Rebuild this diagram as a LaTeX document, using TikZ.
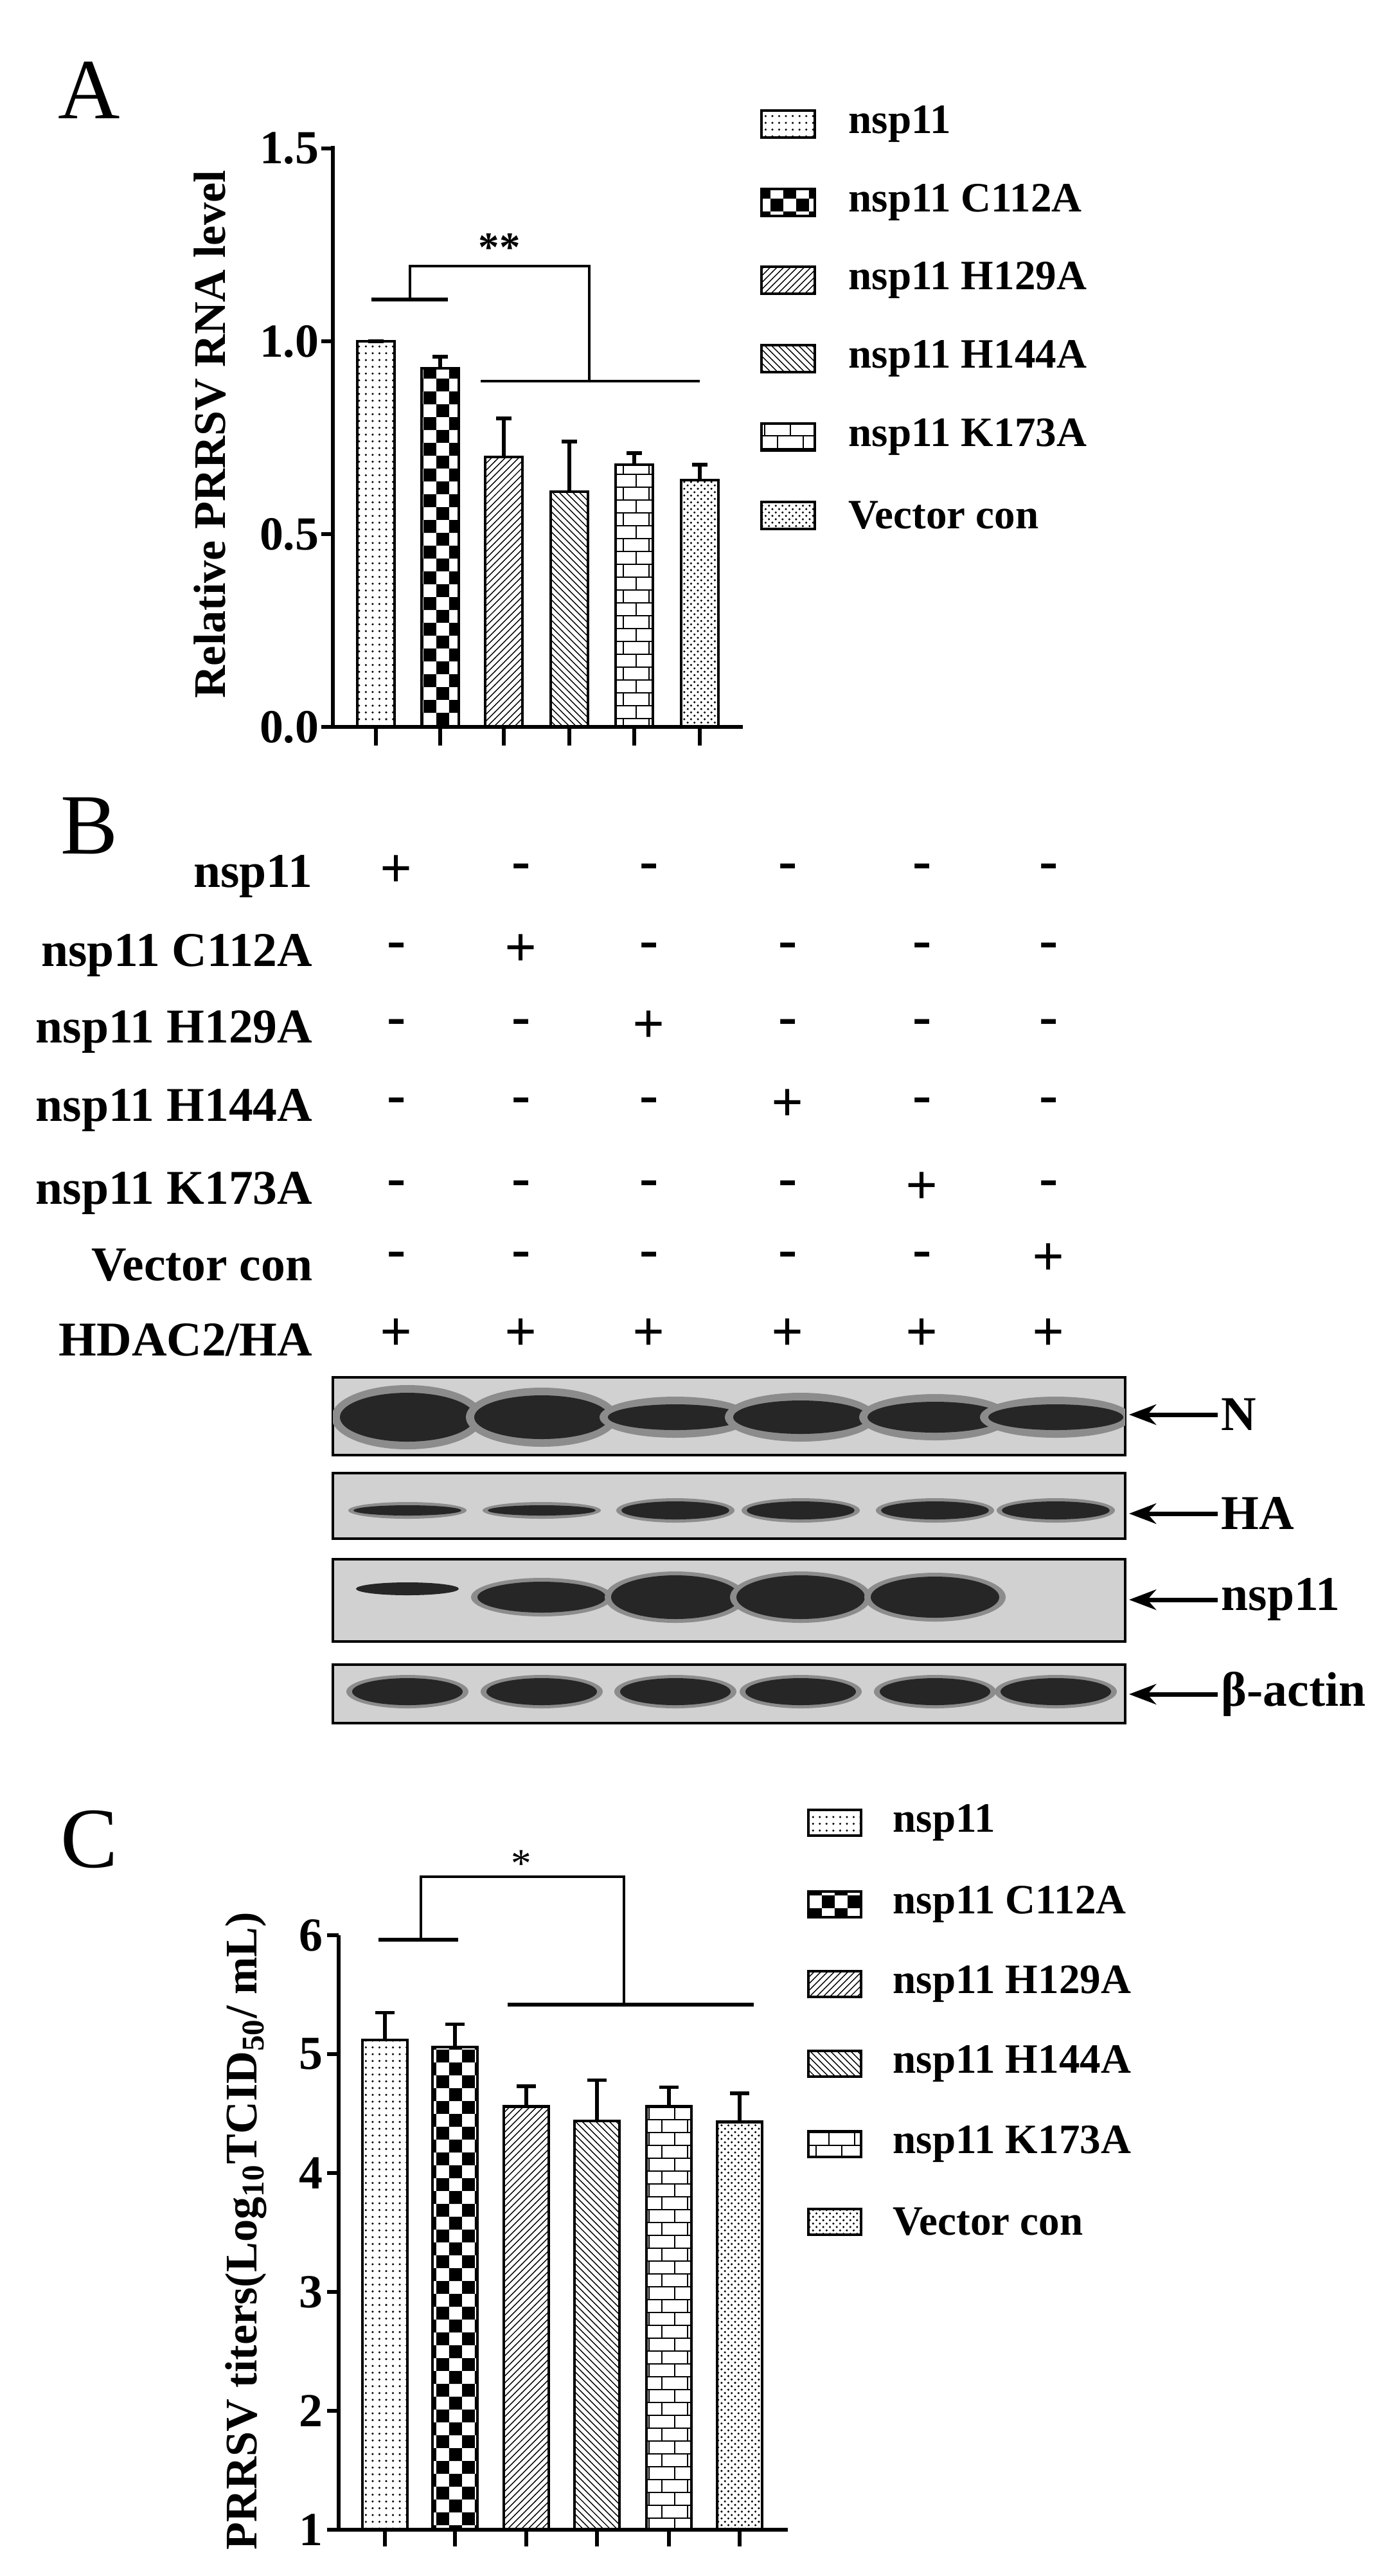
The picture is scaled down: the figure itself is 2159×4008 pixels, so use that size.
\documentclass[tikz,border=0pt]{standalone}
\usepackage{fontspec}
\setmainfont{Liberation Serif}
\usetikzlibrary{patterns,arrows.meta}
\newcommand{\hdaclbl}{HDAC2/HA}
\begin{document}
\begin{tikzpicture}[x=0.1mm,y=-0.1mm,
  lbl/.style={font=\fontsize{18.5}{20}\selectfont\bfseries, inner sep=0pt},
  rowlbl/.style={font=\fontsize{21.5}{23}\selectfont\bfseries, inner sep=0pt},
  ticklbl/.style={font=\fontsize{21}{23}\selectfont\bfseries, inner sep=0pt},
  axlbl/.style={font=\fontsize{20}{22}\selectfont\bfseries, inner sep=0pt},
  sgn/.style={font=\fontsize{25}{27}\selectfont\bfseries, inner sep=0pt},
  panel/.style={font=\fontsize{38}{40}\selectfont, inner sep=0pt},
  barbox/.style={draw=black, line width=1.2pt},
  axisline/.style={line width=1.5pt},
  brk/.style={line width=1pt},
  blot/.style={draw=black, line width=1pt, fill=black!18},
  band/.style={fill=black!85},
  halo/.style={fill=black!45},
  arr/.style={line width=2pt, -{Stealth[length=12pt,width=9pt]}}]
\useasboundingbox (0,0) rectangle (2159,4008);
% ---------------- Panel A ----------------
\node[panel] (pA) at (139,140) {A};
\draw[axisline] (518,227) -- (518,1131) -- (1156,1131);
\foreach \v/\t in {0/0.0,0.5/0.5,1/1.0,1.5/1.5}{
  \draw[axisline] (500,{1131-600*\v}) -- (518,{1131-600*\v});
  \node[ticklbl, anchor=east] at (497,{1131-600*\v}) {\t};
}
\foreach \x/\v/\e/\p in {585/1.0/1.0/dots, 685/0.93/0.96/checkerboard, 784/0.70/0.80/north east lines, 886/0.61/0.74/north west lines, 987/0.68/0.71/bricks, 1089/0.64/0.68/crosshatch dots}{
  \draw[barbox, pattern=\p] (\x-29,1131) rectangle (\x+29,{1131-600*\v});
  \draw[line width=1.5pt] (\x,{1131-600*\v}) -- (\x,{1131-600*\e});
  \draw[line width=1.5pt] (\x-12,{1131-600*\e}) -- (\x+12,{1131-600*\e});
  \draw[axisline] (\x,1131) -- (\x,1160);
}
\node[axlbl, rotate=90] (ylA) at (327,676) {Relative PRRSV RNA level};
\draw[line width=1.8pt] (578,466) -- (697,466);
\draw[brk] (638,466) -- (638,414) -- (917,414) -- (917,593);
\draw[brk] (748,593) -- (1089,593);
\node[lbl] (sigA) at (777,385) {**};
% legend A
\foreach \y/\p/\t in {193/dots/nsp11, 315/checkerboard/nsp11 C112A, 436/north east lines/nsp11 H129A, 558/north west lines/nsp11 H144A, 680/bricks/nsp11 K173A, 802/crosshatch dots/Vector con}{
  \draw[barbox, pattern=\p] (1185,\y-21) rectangle (1268,\y+21);
  \node[lbl, anchor=west] at (1320,\y) {\t};
}
% ---------------- Panel B ----------------
\node[panel] (pB) at (139,1285) {B};
\foreach \y/\t/\s in {1364/nsp11/{+,-,-,-,-,-}, 1487/nsp11 C112A/{-,+,-,-,-,-}, 1606/nsp11 H129A/{-,-,+,-,-,-}, 1728/nsp11 H144A/{-,-,-,+,-,-}, 1857/nsp11 K173A/{-,-,-,-,+,-}, 1968/Vector con/{-,-,-,-,-,+}, 2085/\hdaclbl/{+,+,+,+,+,+}}{
  \node[rowlbl, anchor=east] at (487,\y) {\t};
  \foreach \c [count=\i] in \s {
    \pgfmathsetmacro\cx{{617,811,1010,1226,1435,1632}[\i-1]}
    \node[sgn] at (\cx,\y-8) {\c};
  }
}
% blots
\draw[blot] (518,2143) rectangle (1751,2264);
\begin{scope}
\clip (518,2143) rectangle (1751,2264);
\foreach \x/\h in {634/38,843/34,1051/20,1246/26,1455/24,1643/20}{
  \fill[halo] (\x,2205) ellipse (118 and \h+12);
  \fill[band] (\x,2205) ellipse (105 and \h);
}
\end{scope}
\draw[blot] (518,2292) rectangle (1751,2394);
\begin{scope}
\clip (518,2292) rectangle (1751,2394);
\foreach \x/\h in {634/8,843/8,1051/14,1246/14,1455/14,1643/14}{
  \fill[halo] (\x,2350) ellipse (92 and \h+5);
  \fill[band] (\x,2350) ellipse (84 and \h);
}
\end{scope}
\draw[blot] (518,2426) rectangle (1751,2554);
\begin{scope}
\clip (518,2426) rectangle (1751,2554);
\fill[band] (634,2472) ellipse (80 and 10);
\foreach \x/\h in {843/24,1051/34,1246/34,1455/32}{
  \fill[halo] (\x,2485) ellipse (110 and \h+6);
  \fill[band] (\x,2485) ellipse (100 and \h);
}
\end{scope}
\draw[blot] (518,2590) rectangle (1751,2681);
\begin{scope}
\clip (518,2590) rectangle (1751,2681);
\foreach \x in {634,843,1051,1246,1455,1643}{
  \fill[halo] (\x,2632) ellipse (95 and 26);
  \fill[band] (\x,2632) ellipse (86 and 21);
}
\end{scope}
\foreach \y/\t in {2201/N,2355/HA,2489/nsp11,2636/β-actin}{
  \coordinate (e) at (1757,\y);
  \draw[arr] (1895,\y) -- (e);
  \node[rowlbl, anchor=west] at (1900,\y) {\t};
}
% ---------------- Panel C ----------------
\node[panel] (pC) at (139,2862) {C};
\draw[axisline] (527,3011) -- (527,3936) -- (1226,3936);
\foreach \v in {1,...,6}{
  \draw[axisline] (509,{3936-185*(\v-1)}) -- (527,{3936-185*(\v-1)});
  \node[ticklbl, anchor=east] at (503,{3936-185*(\v-1)}) {\v};
}
\foreach \x/\v/\e/\p in {599/5.12/5.35/dots, 708/5.06/5.25/checkerboard, 819/4.56/4.73/north east lines, 929/4.44/4.78/north west lines, 1041/4.56/4.72/bricks, 1151/4.43/4.67/crosshatch dots}{
  \draw[barbox, pattern=\p] (\x-35,3936) rectangle (\x+35,{3936-185*(\v-1)});
  \draw[line width=1.5pt] (\x,{3936-185*(\v-1)}) -- (\x,{3936-185*(\e-1)});
  \draw[line width=1.5pt] (\x-15,{3936-185*(\e-1)}) -- (\x+15,{3936-185*(\e-1)});
  \draw[axisline] (\x,3936) -- (\x,3962);
}
\node[axlbl, rotate=90] (ylC) at (383,3471) {PRRSV titers(Log\textsubscript{10}TCID\textsubscript{50}/ mL)};
\draw[line width=1.8pt] (589,3018) -- (713,3018);
\draw[brk] (655,3018) -- (655,2920) -- (971,2920) -- (971,3119);
\draw[line width=1.8pt] (790,3119) -- (1173,3119);
\node[font=\fontsize{18}{20}\selectfont, inner sep=0pt] (sigC) at (811,2900) {*};
\foreach \y/\p/\t in {2836/dots/nsp11, 2963/checkerboard/nsp11 C112A, 3087/north east lines/nsp11 H129A, 3211/north west lines/nsp11 H144A, 3336/bricks/nsp11 K173A, 3457/crosshatch dots/Vector con}{
  \draw[barbox, pattern=\p] (1258,\y-20) rectangle (1340,\y+20);
  \node[lbl, anchor=west] at (1389,\y) {\t};
}
\end{tikzpicture}
\end{document}
